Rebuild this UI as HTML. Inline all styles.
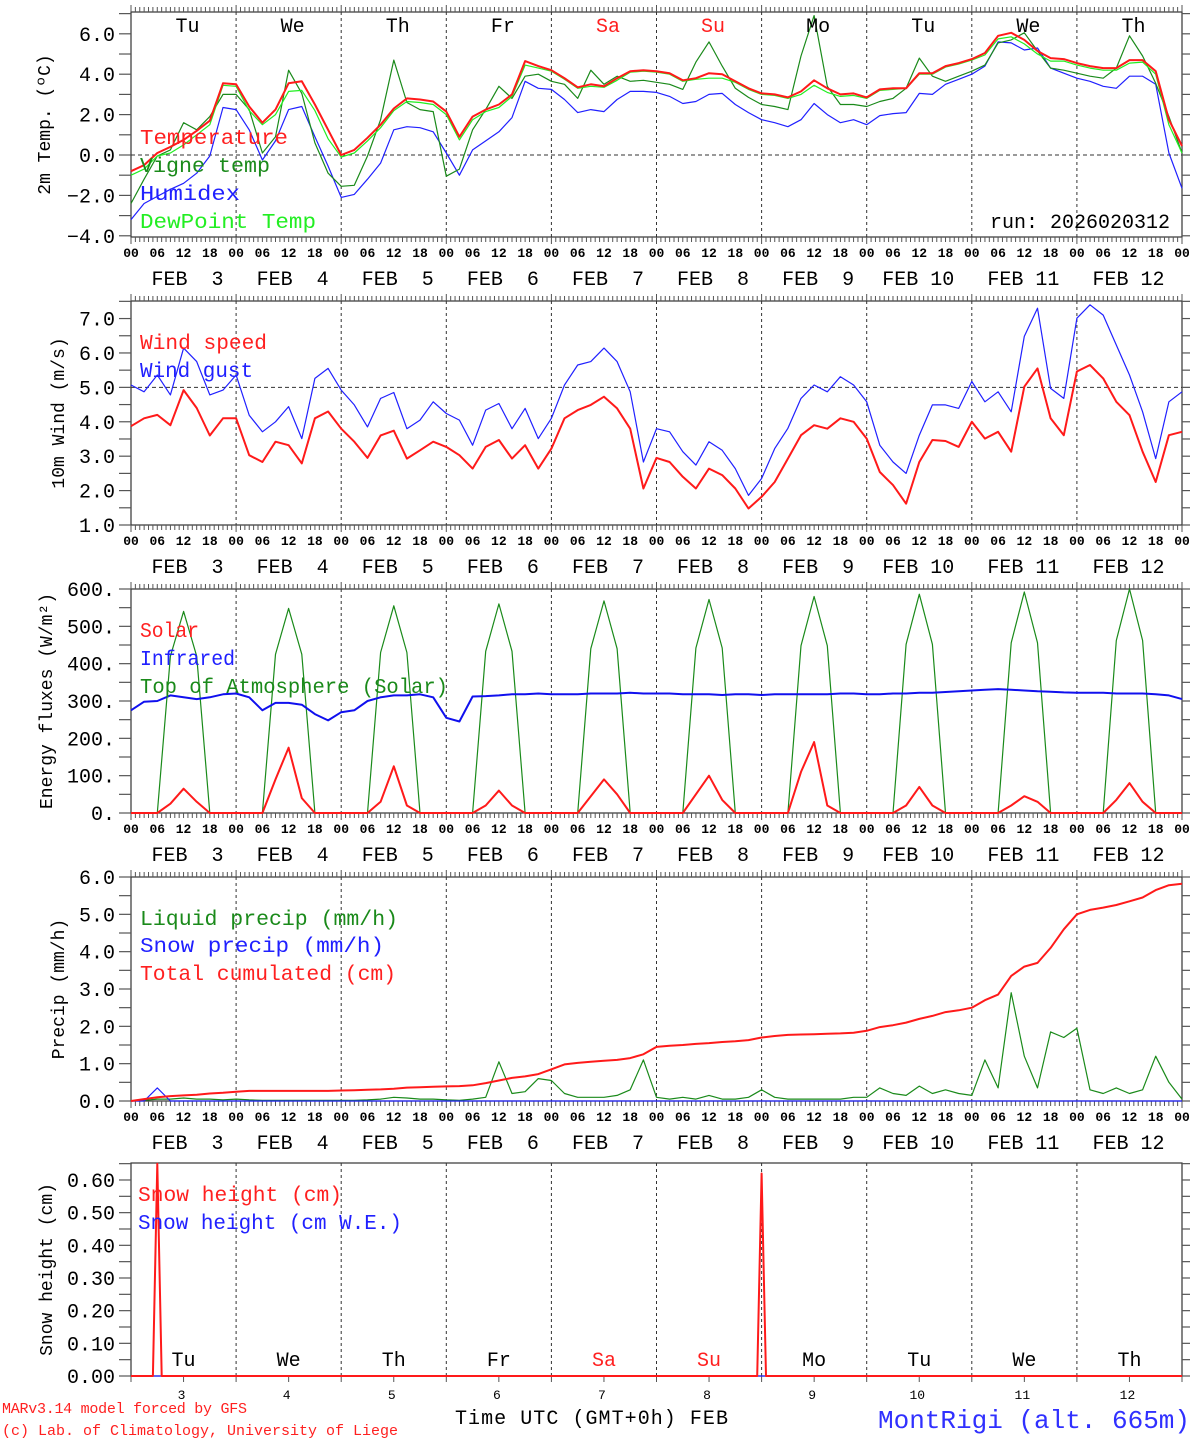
<!DOCTYPE html>
<html><head><meta charset="utf-8">
<style>
html,body{margin:0;padding:0;background:#fff;}
svg{display:block;font-family:"Liberation Mono",monospace;}
</style></head>
<body>
<svg id="chart" width="1194" height="1440" viewBox="0 0 1194 1440" xmlns="http://www.w3.org/2000/svg"></svg>
<script>
// ---- data (3-hourly, hour 0..240) ----
const dayNames = ["Tu","We","Th","Fr","Sa","Su","Mo","Tu","We","Th"];
const dayNums = ["3","4","5","6","7","8","9","10","11","12"];
const hourLabels = ["00","06","12","18"];
const tempRed = [-0.8,-0.5,0.1,0.4,0.75,1.2,1.7,3.55,3.5,2.4,1.6,2.25,3.55,3.65,2.5,1.25,0.0,0.25,0.85,1.5,2.3,2.8,2.75,2.65,2.15,0.9,1.9,2.25,2.5,3.0,4.65,4.4,4.2,3.8,3.35,3.5,3.4,3.8,4.15,4.2,4.15,
4.05,3.7,3.8,4.05,4.0,3.65,3.3,3.05,3.0,2.85,3.15,3.7,3.3,3.0,3.05,2.85,3.25,3.3,3.3,4.05,4.05,4.4,4.55,4.75,5.05,5.9,6.05,5.7,5.15,4.8,4.75,4.55,4.4,4.3,4.3,4.7,4.7,4.15,1.75,0.45];
const vigneTemp = [-2.4,-1.2,-0.05,0.25,1.6,1.25,1.9,3.0,3.0,2.25,0.1,0.9,4.2,3.05,0.6,-0.9,-1.55,-1.5,-0.05,1.75,4.7,2.6,2.25,2.15,-1.05,-0.7,1.25,2.25,3.4,2.8,3.9,4.0,3.65,3.5,2.8,4.2,3.5,3.9,3.65,3.7,3.6,
3.5,3.25,4.6,5.6,4.4,3.3,2.85,2.5,2.4,2.25,4.9,6.9,3.4,2.5,2.5,2.4,2.65,2.8,3.3,4.8,3.9,3.65,3.9,4.15,4.45,5.55,5.7,6.05,5.15,4.3,4.2,4.05,3.9,3.8,4.3,5.9,4.9,3.55,1.9,0.1];
const humidex = [-3.2,-2.4,-2.05,-1.7,-1.4,-0.9,-0.05,2.35,2.25,1.25,-0.25,0.7,2.25,2.4,0.9,-0.55,-2.1,-1.95,-1.2,-0.4,1.25,1.4,1.35,1.15,0.1,-1.0,0.25,0.7,1.15,1.85,3.65,3.3,3.25,2.75,2.1,2.25,2.15,2.75,3.15,3.15,3.1,
2.9,2.55,2.65,3.0,3.05,2.5,2.1,1.75,1.6,1.4,1.75,2.55,2.0,1.6,1.75,1.5,1.95,2.05,2.1,3.05,3.0,3.5,3.75,4.0,4.4,5.6,5.55,5.2,5.3,4.3,4.05,3.8,3.65,3.4,3.3,3.9,3.9,3.5,0.1,-1.65];
const dewPoint = [-1.0,-0.7,-0.05,0.1,0.5,1.0,1.5,3.45,3.4,2.2,1.5,2.0,3.15,3.2,2.2,0.8,-0.1,0.1,0.7,1.35,2.2,2.65,2.6,2.5,2.0,0.75,1.75,2.15,2.35,2.9,4.45,4.3,4.15,3.75,3.3,3.4,3.35,3.7,4.1,4.15,4.1,
4.0,3.65,3.75,3.8,3.8,3.6,3.25,3.0,2.95,2.8,3.0,3.45,3.1,2.9,2.95,2.8,3.2,3.25,3.3,4.0,4.0,4.35,4.5,4.7,4.95,5.75,5.85,5.5,5.0,4.65,4.65,4.45,4.3,4.2,4.2,4.55,4.6,4.0,1.5,0.1];
const windSpeed = [3.87,4.1,4.2,3.9,4.92,4.4,3.6,4.1,4.1,3.03,2.83,3.42,3.32,2.79,4.1,4.3,3.8,3.42,2.95,3.6,3.74,2.93,3.17,3.42,3.27,3.03,2.64,3.27,3.47,2.93,3.32,2.64,3.22,4.1,4.34,4.49,4.73,4.39,3.8,2.06,2.95,
2.83,2.4,2.06,2.64,2.45,2.06,1.48,1.82,2.25,2.93,3.61,3.9,3.8,4.1,4.0,3.51,2.54,2.16,1.62,2.83,3.47,3.44,3.27,4.0,3.51,3.71,3.13,5.02,5.55,4.1,3.61,5.46,5.65,5.26,4.58,4.19,3.13,2.25,3.61,3.71];
const windGust = [5.07,4.87,5.36,4.78,6.14,5.75,4.78,4.92,5.36,4.19,3.71,4.0,4.44,3.51,5.26,5.55,4.92,4.49,3.85,4.68,4.85,3.8,4.05,4.58,4.24,4.05,3.32,4.34,4.53,3.8,4.39,3.51,4.1,5.07,5.65,5.75,6.14,5.75,4.87,2.83,3.8,
3.71,3.13,2.74,3.42,3.17,2.64,1.86,2.35,3.22,3.81,4.68,5.07,4.87,5.31,5.07,4.58,3.32,2.83,2.5,3.61,4.49,4.49,4.39,5.17,4.58,4.87,4.29,6.48,7.3,4.97,4.68,7.01,7.4,7.1,6.23,5.36,4.29,2.93,4.58,4.87];
const solar = [0,0,0,25,65,30,0,0, 0,0,0,90,175,40,0,0, 0,0,0,30,125,20,0,0, 0,0,0,20,60,20,0,0, 0,0,0,45,90,50,0,0, 0,0,0,50,100,35,0,0, 0,0,0,110,190,20,0,0, 0,0,0,20,70,20,0,0, 0,0,0,20,45,30,0,0, 0,0,0,35,80,30,0,0, 0];
const infrared = [275,298,300,315,310,305,310,318,320,310,275,295,295,290,265,248,270,275,300,310,315,315,318,310,255,245,312,313,315,318,318,320,318,318,318,320,320,320,322,320,320,
320,318,318,318,316,318,318,316,318,318,318,318,318,320,320,318,318,320,320,322,322,324,326,328,330,332,330,328,326,325,323,322,322,322,320,320,320,318,315,305];
const toaSolar = [0,0,0,420,540,420,0,0, 0,0,0,425,548,425,0,0, 0,0,0,430,555,430,0,0, 0,0,0,433,560,433,0,0, 0,0,0,440,568,440,0,0, 0,0,0,442,572,442,0,0, 0,0,0,448,580,448,0,0, 0,0,0,452,586,452,0,0, 0,0,0,456,592,456,0,0, 0,0,0,462,600,462,0,0, 0];
const liquidPrecip = [0,0.02,0.05,0.05,0.08,0.05,0.05,0.03,0.05,0.03,0.02,0.02,0.02,0.02,0.02,0.02,0.02,0.02,0.03,0.05,0.1,0.08,0.05,0.05,0.03,0.02,0.05,0.1,1.05,0.2,0.25,0.6,0.55,0.2,0.1,0.1,0.1,0.15,0.3,1.1,0.1,
0.05,0.1,0.05,0.15,0.05,0.05,0.1,0.3,0.1,0.05,0.05,0.05,0.05,0.05,0.1,0.1,0.35,0.2,0.15,0.4,0.2,0.3,0.2,0.15,1.1,0.35,2.9,1.2,0.35,1.85,1.7,1.95,0.3,0.2,0.35,0.2,0.3,1.2,0.5,0.05];
const snowPrecip = [0,0,0.35,0,0,0,0,0,0,0,0,0,0,0,0,0,0,0,0,0,0,0,0,0,0,0,0,0,0,0,0,0,0,0,0,0,0,0,0,0,0,
0,0,0,0,0,0,0,0,0,0,0,0,0,0,0,0,0,0,0,0,0,0,0,0,0,0,0,0,0,0,0,0,0,0,0,0,0,0,0,0];
const totalCumul = [0,0.05,0.1,0.13,0.15,0.17,0.2,0.22,0.25,0.27,0.27,0.27,0.27,0.27,0.27,0.27,0.28,0.29,0.3,0.31,0.33,0.36,0.37,0.38,0.39,0.4,0.42,0.48,0.55,0.62,0.66,0.72,0.85,0.98,1.02,1.05,1.08,1.1,1.15,1.25,1.45,
1.48,1.5,1.53,1.55,1.58,1.6,1.63,1.7,1.74,1.77,1.78,1.79,1.8,1.81,1.83,1.88,1.98,2.03,2.1,2.2,2.28,2.38,2.43,2.5,2.7,2.85,3.35,3.6,3.7,4.1,4.6,5.0,5.12,5.18,5.25,5.35,5.45,5.65,5.78,5.82];
const snowHours = [0,5,6,7,143,144,145,240];
const snowHeight = [0,0,0.65,0,0,0.62,0,0];
const snowWE = [0,0,0,0,0,0,0,0];

// ---- layout ----
const NS="http://www.w3.org/2000/svg";
const svg=document.getElementById('chart');
const X0=131, X1=1182;
function xh(h){return X0+h*(X1-X0)/240;}
function mk(tag,attrs,parent){const e=document.createElementNS(NS,tag);for(const k in attrs)e.setAttribute(k,attrs[k]);(parent||svg).appendChild(e);return e;}
function txt(s,x,y,size,fill,anchor,parent){const t=mk('text',{x:x,y:y,'font-size':size,fill:fill||'#000','text-anchor':anchor||'start'},parent);t.textContent=s;return t;}

const panels=[
 {name:'temp',top:12,bot:237,min:-4.06,max:7.08,ticks:[-4,-3,-2,-1,0,1,2,3,4,5,6,7],labels:[-4,-2,0,2,4,6],fmt:v=>(v<0?'\u2212':'')+Math.abs(v).toFixed(1),dash:0,title:'2m Temp. (\u00baC)',tx:50},
 {name:'wind',top:301,bot:525,min:1.0,max:7.51,ticks:[1,1.5,2,2.5,3,3.5,4,4.5,5,5.5,6,6.5,7,7.5],labels:[1,2,3,4,5,6,7],fmt:v=>v.toFixed(1),dash:5,title:'10m Wind (m/s)',tx:64},
 {name:'energy',top:589,bot:813,min:0,max:600,ticks:[0,50,100,150,200,250,300,350,400,450,500,550,600],labels:[0,100,200,300,400,500,600],fmt:v=>v+'.',dash:null,title:'Energy fluxes (W/m\u00b2)',tx:52},
 {name:'precip',top:877,bot:1101,min:0,max:6,ticks:[0,0.5,1,1.5,2,2.5,3,3.5,4,4.5,5,5.5,6],labels:[0,1,2,3,4,5,6],fmt:v=>v.toFixed(1),dash:null,title:'Precip (mm/h)',tx:64},
 {name:'snow',top:1163,bot:1376,min:0,max:0.652,ticks:[0,0.05,0.1,0.15,0.2,0.25,0.3,0.35,0.4,0.45,0.5,0.55,0.6,0.65],labels:[0,0.1,0.2,0.3,0.4,0.5,0.6],fmt:v=>v.toFixed(2),dash:null,title:'Snow height (cm)',tx:52}
];

function yv(p,v){return p.bot-(v-p.min)*(p.bot-p.top)/(p.max-p.min);}

panels.forEach((p,pi)=>{
  const g=mk('g',{});
  
  
  for(let d=1;d<10;d++){const l=mk('line',{x1:xh(d*24),x2:xh(d*24),y1:p.top,y2:p.bot,stroke:'#333','stroke-width':1,'stroke-dasharray':'3,3'},g);
    }
  if(p.dash!==null){const l=mk('line',{x1:X0,x2:X1,y1:yv(p,p.dash),y2:yv(p,p.dash),stroke:'#333','stroke-width':1,'stroke-dasharray':'4,3'},g);
    }
  const fr=mk('rect',{x:X0,y:p.top,width:X1-X0,height:p.bot-p.top,fill:'none',stroke:'#333','stroke-width':1.2},g);
  
  const ta=mk('g',{stroke:'#555','stroke-width':1},g);
  
  for(let h=0;h<=240;h++){const x=xh(h);const len=(h%24===0)?7:5;
    if(pi<4){mk('line',{x1:x,x2:x,y1:p.top,y2:p.top-len},ta);mk('line',{x1:x,x2:x,y1:p.bot,y2:p.bot+len},ta);}
    else if(h%24===0||h%24===12){mk('line',{x1:x,x2:x,y1:p.bot,y2:p.bot+6},ta);}
  }
  const ya=mk('g',{},g);
  
  p.ticks.forEach(v=>{if(v<p.min-1e-6||v>p.max+1e-6)return;const y=yv(p,v);
    mk('line',{x1:X0-12,x2:X0,y1:y,y2:y,stroke:'#555','stroke-width':1.2},ya);
    mk('line',{x1:X1,x2:X1+8,y1:y,y2:y,stroke:'#555','stroke-width':1.2},ya);});
  p.labels.forEach(v=>{const t=txt(p.fmt(v),X0-16,yv(p,v)+7,20,'#000','end',ya);
    });
  const cy=(p.top+p.bot)/2;
  const tt=mk('text',{x:0,y:0,'font-size':18,'text-anchor':'middle',transform:`translate(${p.tx},${cy}) rotate(-90)`},g);
  tt.textContent=p.title;
  
  if(pi<4){
    const xa=mk('g',{},g);
    
    for(let d=0;d<10;d++){hourLabels.forEach((s,i)=>{const t=txt(s,xh(d*24+i*6),p.bot+20,13,'#000','middle',xa);t.setAttribute('font-weight','bold');
      });
      const lab=dayNums[d].length>1?'FEB '+dayNums[d]:'FEB  '+dayNums[d];
      const f=txt(lab,xh(d*24+12)+(dayNums[d].length>1?-1:4),p.bot+48,20,'#000','middle',xa);f.style.whiteSpace='pre';
      }
    const t=txt('00',xh(240),p.bot+20,13,'#000','middle',xa);t.setAttribute('font-weight','bold');
    
  }
});

function series(p,vals,color,w,name,hours){
  const pts=vals.map((v,i)=>{const h=hours?hours[i]:i*3;return xh(h).toFixed(1)+','+yv(p,v).toFixed(1);}).join(' ');
  const l=mk('polyline',{points:pts,fill:'none',stroke:color,'stroke-width':w,'stroke-linejoin':'round'});
  
  
}
const P=panels;
series(P[0],humidex,'#2020ff',1.2,'humidex-line');
series(P[0],vigneTemp,'#1a8a1a',1.2,'vigne-temp-line');
series(P[0],dewPoint,'#22ee22',1.2,'dewpoint-line');
series(P[0],tempRed,'#ff1a1a',2,'temperature-line');
series(P[1],windGust,'#2020ff',1.2,'wind-gust-line');
series(P[1],windSpeed,'#ff1a1a',2,'wind-speed-line');
series(P[2],toaSolar,'#1a8a1a',1.2,'toa-solar-line');
series(P[2],infrared,'#1010ee',2,'infrared-line');
series(P[2],solar,'#ff1a1a',2,'solar-line');
series(P[3],liquidPrecip,'#1a8a1a',1.2,'liquid-precip-line');
series(P[3],snowPrecip,'#2020ff',1.2,'snow-precip-line');
series(P[3],totalCumul,'#ff1a1a',2,'total-cumulated-line');
series(P[4],snowWE,'#2020ff',1.2,'snow-we-line',snowHours);
series(P[4],snowHeight,'#ff1a1a',2,'snow-height-line',snowHours);

dayNames.forEach((s,d)=>{const c=(d===4||d===5)?'#ff2020':'#000';
  const t=txt(s,xh(d*24+12)+4,32,20,c,'middle');
  const t2=txt(s,xh(d*24+12),1366,20,c,'middle');
  const t3=txt(dayNums[d],xh(d*24+12)-2,1399,13,'#000','middle');
});

function leg(s,x,y,c,len){const t=txt(s,x,y,21,c);t.setAttribute('textLength',len);t.setAttribute('lengthAdjust','spacingAndGlyphs');
  }
leg('Temperature',140,144,'#ff2020',148);leg('Vigne temp',140,172,'#1a8a1a',130);leg('Humidex',140,200,'#2020ff',100);leg('DewPoint Temp',140,228,'#22ee22',176);
leg('Wind speed',140,349,'#ff2020',127);leg('Wind gust',140,377,'#2020ff',113);
leg('Solar',140,637,'#ff2020',59);leg('Infrared',140,665,'#2020ff',95);leg('Top of Atmosphere (Solar)',140,693,'#1a8a1a',308);
leg('Liquid precip (mm/h)',140,925,'#1a8a1a',258);leg('Snow precip (mm/h)',140,952,'#2020ff',244);leg('Total cumulated (cm)',140,980,'#ff2020',256);
leg('Snow height (cm)',138,1201,'#ff2020',204);leg('Snow height (cm W.E.)',138,1229,'#2020ff',264);

let t=txt('run: 2026020312',1170,228,20,'#000','end');
t=txt('Time UTC (GMT+0h) FEB',455,1424,20,'#000','start');t.setAttribute('textLength',273);
t=txt('MARv3.14 model forced by GFS',2,1413,15,'#ff2020');t.setAttribute('textLength',245);
t=txt('(c) Lab. of Climatology, University of Liege',2,1435,15,'#ff2020');t.setAttribute('textLength',396);
t=txt('MontRigi (alt. 665m)',878,1428,26,'#3030ff','start');t.setAttribute('textLength',312);
</script>
</body></html>
